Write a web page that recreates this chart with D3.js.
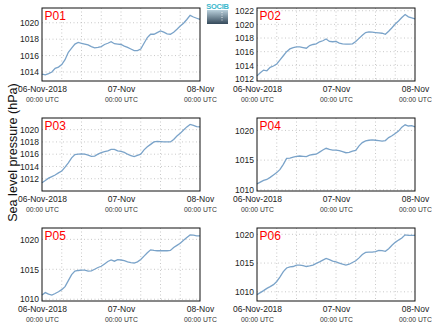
<!DOCTYPE html>
<html><head><meta charset="utf-8">
<script src="https://cdn.jsdelivr.net/npm/d3@7"></script>
<style>body{margin:0;background:#fff}svg{display:block}text{font-family:"Liberation Sans",Arial,sans-serif}</style>
</head><body><div id="chart"></div>
<script>
const hours = d3.range(0, 49);
const panelNames = ["P01","P02","P03","P04","P05","P06"];
const p01 = [1013.75,1013.65,1013.8,1014.0,1014.45,1014.6,1014.9,1015.5,1016.4,1016.9,1017.4,1017.6,1017.5,1017.4,1017.3,1017.1,1016.95,1017.0,1017.1,1017.35,1017.5,1017.7,1017.45,1017.4,1017.35,1017.15,1017.0,1016.8,1016.6,1016.6,1016.8,1017.5,1018.2,1018.6,1018.6,1018.8,1019.0,1018.85,1018.65,1018.6,1018.85,1019.2,1019.6,1019.95,1020.4,1020.9,1020.7,1020.55,1020.4];
const p02 = [1012.45,1012.9,1013.3,1013.2,1013.7,1013.9,1014.2,1014.8,1015.4,1016.0,1016.4,1016.6,1016.7,1016.7,1016.6,1016.5,1016.9,1017.05,1017.15,1017.45,1017.6,1017.85,1017.5,1017.45,1017.5,1017.25,1017.15,1017.1,1017.1,1017.15,1017.5,1017.95,1018.4,1018.8,1018.9,1018.85,1018.8,1018.75,1018.7,1018.55,1019.0,1019.5,1020.05,1020.5,1021.0,1021.45,1021.1,1020.95,1020.8];
const p03 = [1011.35,1011.7,1012.1,1012.35,1012.6,1012.95,1013.25,1013.9,1014.6,1015.4,1015.95,1016.0,1016.05,1016.0,1015.85,1015.65,1015.7,1016.0,1016.25,1016.4,1016.55,1016.8,1016.8,1016.55,1016.45,1016.3,1016.0,1015.75,1015.6,1015.8,1016.0,1016.7,1017.2,1017.6,1018.0,1018.1,1018.05,1018.0,1018.0,1018.0,1018.4,1018.95,1019.4,1019.95,1020.45,1020.85,1020.7,1020.5,1020.45];
const p04 = [1011.0,1011.3,1011.6,1011.75,1012.1,1012.5,1012.9,1013.45,1014.3,1015.3,1015.35,1015.5,1015.65,1015.7,1015.65,1015.6,1015.85,1015.95,1016.0,1016.35,1016.7,1017.0,1016.8,1016.7,1016.7,1016.6,1016.45,1016.25,1016.3,1016.5,1016.65,1017.4,1017.95,1018.25,1018.35,1018.4,1018.35,1018.3,1018.2,1018.3,1018.8,1019.1,1019.5,1019.9,1020.55,1020.95,1020.75,1020.8,1020.6];
const p05 = [1010.7,1011.1,1010.85,1010.7,1010.95,1011.25,1011.6,1012.1,1013.1,1014.1,1014.7,1014.8,1014.85,1014.85,1014.7,1014.75,1015.0,1015.3,1015.5,1015.9,1016.3,1016.55,1016.35,1016.6,1016.55,1016.45,1016.25,1016.1,1016.05,1016.25,1016.65,1017.2,1017.75,1018.25,1018.15,1018.1,1018.1,1018.1,1018.1,1018.15,1018.65,1019.0,1019.35,1019.85,1020.3,1020.75,1020.7,1020.6,1020.6];
const p06 = [1009.5,1009.85,1010.2,1010.6,1010.9,1011.25,1011.8,1012.6,1013.5,1014.15,1014.35,1014.4,1014.65,1014.65,1014.55,1014.4,1014.5,1014.65,1014.95,1015.2,1015.5,1015.8,1015.6,1015.35,1015.2,1015.0,1014.8,1014.65,1014.8,1015.1,1015.4,1015.9,1016.5,1016.85,1016.9,1016.9,1017.0,1017.2,1017.15,1017.05,1017.5,1018.1,1018.6,1019.0,1019.35,1019.9,1019.8,1019.8,1019.8];
const seriesValues = [p01,p02,p03,p04,p05,p06];
const yDomains = [[1012.9,1021.8],[1011.7,1022.4],[1010.0,1021.9],[1009.8,1022.1],[1009.7,1021.9],[1008.4,1021.1]];
const yTicks = [[1014,1016,1018,1020],[1012,1014,1016,1018,1020,1022],[1012,1014,1016,1018,1020],[1010,1015,1020],[1010,1015,1020],[1010,1015,1020]];
const xTickHours = [0,24,48];
const xTickLabels = ["06-Nov-2018","07-Nov","08-Nov"];
const xTickSub = "00:00 UTC";
const gridHours = d3.range(6, 48, 6);
const yLabel = "Sea level pressure (hPa)";

const W = 434, H = 327;
const svg = d3.select("#chart").append("svg").attr("width", W).attr("height", H);
const colsX = [42, 257], rowsY = [8, 118, 228], pw = 158, ph = 73;

panelNames.forEach((name, i) => {
  const x0 = colsX[i % 2], y0 = rowsY[Math.floor(i / 2)];
  const g = svg.append("g").attr("transform", `translate(${x0},${y0})`);
  const x = d3.scaleLinear().domain([0, 48]).range([0, pw]);
  const y = d3.scaleLinear().domain(yDomains[i]).range([ph, 0]);
  // grid
  g.selectAll(".gv").data(gridHours).join("line")
    .attr("x1", d => x(d)).attr("x2", d => x(d)).attr("y1", 0).attr("y2", ph)
    .attr("stroke", "#bbb").attr("stroke-width", 0.8).attr("stroke-dasharray", "1,2.5");
  g.selectAll(".gh").data(yTicks[i]).join("line")
    .attr("x1", 0).attr("x2", pw).attr("y1", d => y(d)).attr("y2", d => y(d))
    .attr("stroke", "#bbb").attr("stroke-width", 0.8).attr("stroke-dasharray", "1,2.5");
  // line
  const line = d3.line().x((d, k) => x(hours[k])).y(d => y(d));
  g.append("path").datum(seriesValues[i]).attr("d", line)
    .attr("fill", "none").attr("stroke", "#7aa3c9").attr("stroke-width", 1.3);
  // frame
  g.append("rect").attr("width", pw).attr("height", ph)
    .attr("fill", "none").attr("stroke", "#111").attr("stroke-width", 1);
  // y axis
  const ya = g.append("g").call(d3.axisLeft(y).tickValues(yTicks[i]).tickSize(0).tickPadding(3).tickFormat(d3.format("d")));
  ya.select(".domain").remove();
  ya.selectAll("text").attr("font-size", 8.5).attr("fill", "#222").style("font-family", '"Liberation Sans",Arial,sans-serif');
  // x axis
  const xa = g.append("g").attr("transform", `translate(0,${ph})`)
    .call(d3.axisBottom(x).tickValues(xTickHours).tickSize(0).tickPadding(0).tickFormat(() => ""));
  xa.select(".domain").remove();
  xa.selectAll(".tick").each(function(d, k) {
    const t = d3.select(this);
    t.append("text").attr("y", 11).attr("text-anchor", "middle").attr("font-size", 8.5).attr("fill", "#222").text(xTickLabels[k]);
    t.append("text").attr("y", 20.5).attr("text-anchor", "middle").attr("font-size", 6.8).attr("fill", "#333").text(xTickSub);
  });
  // panel label
  g.append("text").attr("x", 2.5).attr("y", 12).attr("font-size", 12).attr("fill", "#ff0000").text(name);
});

// y label
svg.append("text").attr("transform", "translate(17,152.5) rotate(-90)")
  .attr("text-anchor", "middle").attr("font-size", 12.6).attr("fill", "#111").text(yLabel);

// logo
const defs = svg.append("defs");
const grad = defs.append("linearGradient").attr("id", "lg").attr("x1", 0).attr("y1", 0).attr("x2", 0).attr("y2", 1);
grad.append("stop").attr("offset", "0%").attr("stop-color", "#b9d0dc");
grad.append("stop").attr("offset", "100%").attr("stop-color", "#34495a");
svg.append("rect").attr("x", 207).attr("y", 10).attr("width", 21).attr("height", 14).attr("fill", "url(#lg)");
svg.append("line").attr("x1", 222).attr("x2", 222).attr("y1", 12).attr("y2", 22)
  .attr("stroke", "#fff").attr("stroke-width", 0.8).attr("stroke-dasharray", "1,1.5");
svg.append("text").attr("x", 217.5).attr("y", 9).attr("text-anchor", "middle").attr("font-size", 7.5)
  .attr("fill", "#3ab7cc").attr("font-weight", "bold").attr("letter-spacing", "-0.3").text("SOCIB");
</script></body></html>
